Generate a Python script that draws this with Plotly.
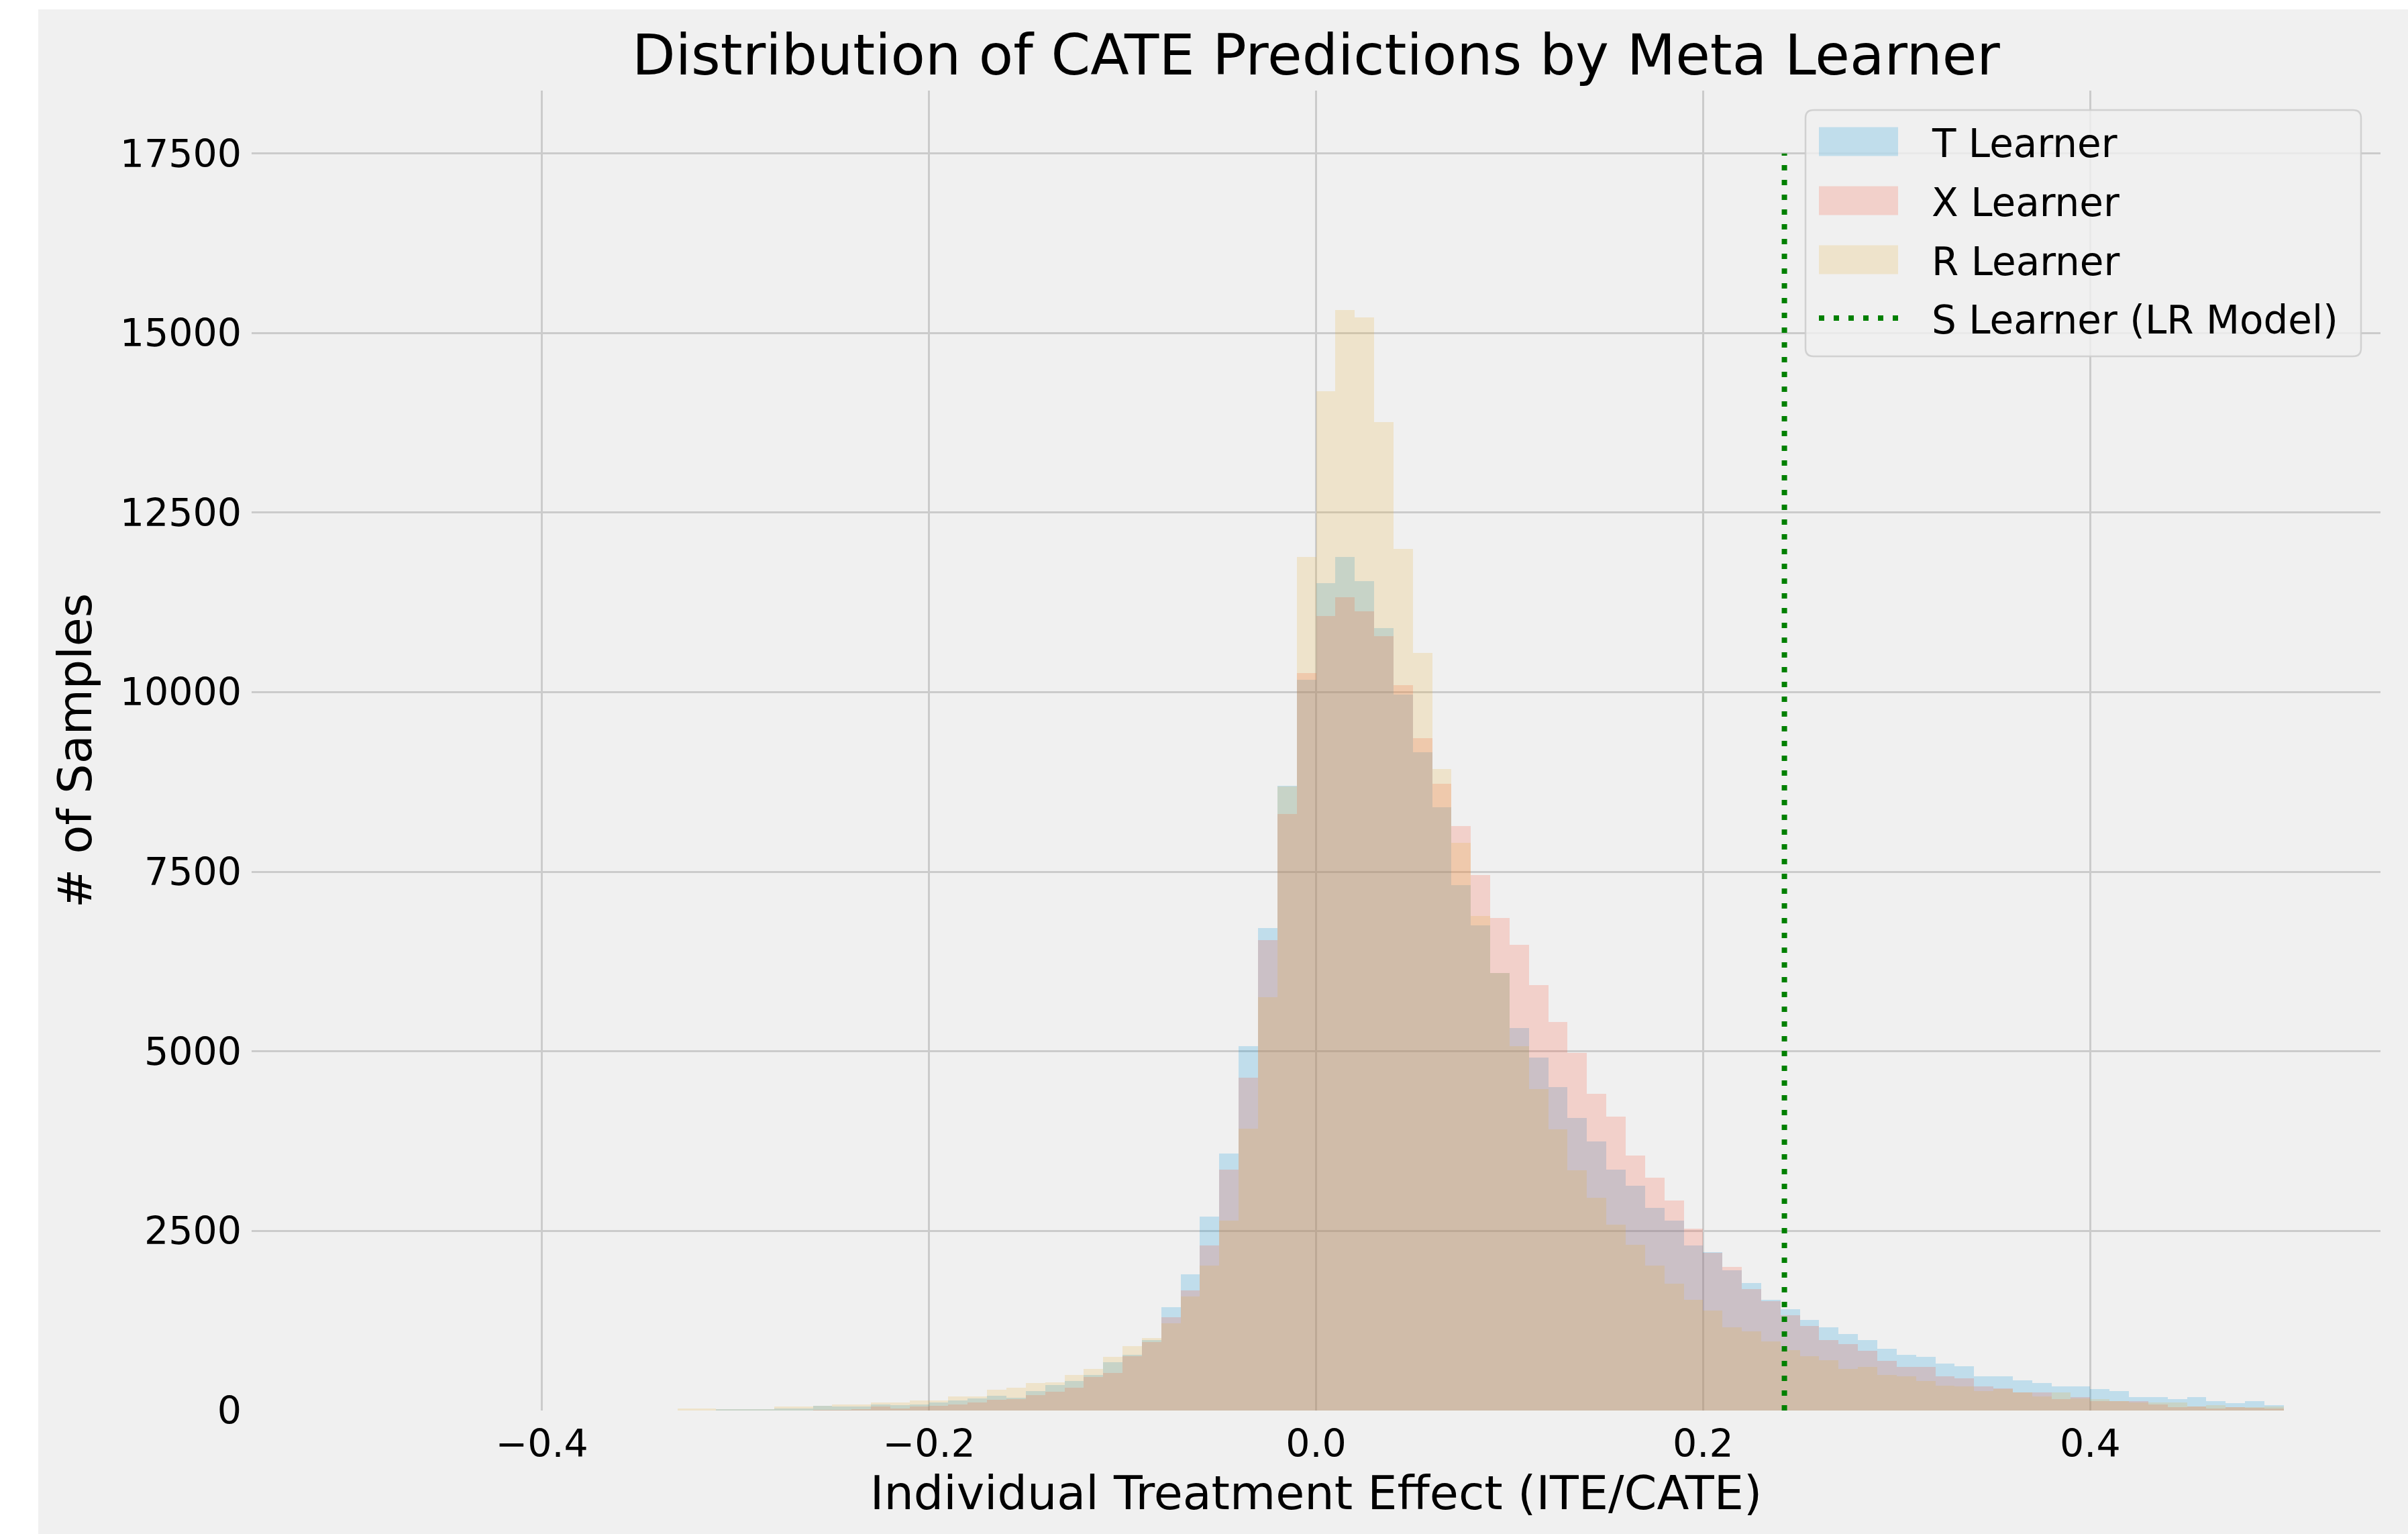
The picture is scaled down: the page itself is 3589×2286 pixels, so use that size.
import plotly.graph_objects as go

# ---------------- data ----------------
bin_width = 0.01
first_bin_left = -0.33

t_learner_counts = [0, 0, 22, 22, 22, 31, 31, 62, 56, 56, 81, 75, 84, 115, 140, 168, 205, 175, 271, 359,
                    412, 493, 668, 774, 977, 1440, 1900, 2700, 3578, 5069, 6719, 8700, 10175, 11522, 11885,
                    11543, 10893, 9967, 9162, 8394, 7314, 6750, 6090, 5324, 4918, 4500, 4075, 3749, 3354,
                    3125, 2817, 2644, 2300, 2206, 1950, 1778, 1544, 1410, 1264, 1154, 1067, 980, 864, 780,
                    749, 652, 616, 473, 473, 417, 386, 333, 333, 302, 274, 187, 187, 159, 187, 131, 103,
                    131, 75]
x_learner_counts = [0, 0, 0, 0, 0, 0, 0, 10, 10, 22, 56, 31, 56, 62, 84, 115, 148, 156, 212, 265,
                    321, 468, 524, 755, 952, 1300, 1670, 2300, 3350, 4630, 6548, 8308, 10267, 11063, 11318,
                    11122, 10780, 10100, 9359, 8728, 8134, 7452, 6855, 6487, 5920, 5409, 4980, 4405, 4094,
                    3553, 3243, 2926, 2528, 2200, 2003, 1691, 1519, 1326, 1179, 983, 927, 836, 693, 608,
                    608, 480, 445, 333, 310, 255, 249, 159, 187, 134, 134, 134, 81, 50, 56, 25, 45,
                    40, 31]
r_learner_counts = [25, 25, 22, 22, 22, 56, 56, 62, 81, 81, 112, 112, 140, 140, 196, 200, 285, 318, 381, 390,
                    493, 577, 749, 895, 1008, 1215, 1590, 2020, 2645, 3920, 5754, 8690, 11885, 14191, 15325,
                    15213, 13761, 11998, 10551, 8930, 7905, 6886, 6090, 5070, 4473, 3911, 3343, 2957, 2585,
                    2307, 2020, 1764, 1540, 1390, 1160, 1098, 958, 842, 758, 696, 583, 608, 499, 474,
                    412, 346, 333, 274, 300, 249, 193, 249, 170, 159, 134, 112, 109, 109, 56, 72, 50,
                    47, 56]

s_learner_ate = 0.242
s_line_top = 17500

series_names = ["T Learner", "X Learner", "R Learner"]
s_line_name = "S Learner (LR Model)"

x_tick_values = [-0.4, -0.2, 0.0, 0.2, 0.4]
x_tick_labels = ["\u22120.4", "\u22120.2", "0.0", "0.2", "0.4"]
y_tick_values = [0, 2500, 5000, 7500, 10000, 12500, 15000, 17500]
y_tick_labels = ["0", "2500", "5000", "7500", "10000", "12500", "15000", "17500"]

title_text = "Distribution of CATE Predictions by Meta Learner"
x_title = "Individual Treatment Effect (ITE/CATE)"
y_title = "# of Samples"

# ---------------- style ----------------
FONT = "DejaVu Sans"
BG = "#f0f0f0"
GRID = "#cbcbcb"
series_fill = ["rgba(0,143,213,0.2)", "rgba(252,79,48,0.2)", "rgba(229,174,56,0.2)"]
S_COLOR = "#008000"

W, H = 3589, 2286
ML, MR, MT, MB = 375, 41, 135, 184
PW = W - ML - MR
PH = H - MT - MB


def pxx(px):
    return (px - ML) / PW


def pxy(py):
    return (H - MB - py) / PH


bin_centers = [round(first_bin_left + bin_width * (i + 0.5), 4) for i in range(len(t_learner_counts))]

fig = go.Figure()
for name, counts, col in zip(series_names, [t_learner_counts, x_learner_counts, r_learner_counts], series_fill):
    fig.add_trace(go.Bar(
        x=bin_centers, y=counts, width=bin_width, name=name,
        marker=dict(color=col, line=dict(width=0)),
        showlegend=False,
    ))

fig.add_trace(go.Scatter(
    x=[s_learner_ate, s_learner_ate], y=[0, s_line_top], mode="lines", name=s_line_name,
    line=dict(color=S_COLOR, width=8, dash="8px,14px"), showlegend=False,
))

# ---------------- manual legend (matplotlib-like) ----------------
shapes = []
# white outer border strips of the saved figure
shapes.append(dict(type="rect", xref="paper", yref="paper", x0=pxx(0), x1=pxx(57), y0=pxy(H), y1=pxy(0),
                   fillcolor="white", line=dict(width=0), layer="below"))
shapes.append(dict(type="rect", xref="paper", yref="paper", x0=pxx(0), x1=pxx(W), y0=pxy(14), y1=pxy(0),
                   fillcolor="white", line=dict(width=0), layer="below"))

bx0, by0, bx1, by1, rr = 2691, 164, 3519, 531, 12


def P(x, y):
    return f"{pxx(x):.6f},{pxy(y):.6f}"


legend_path = (f"M {P(bx0 + rr, by0)} L {P(bx1 - rr, by0)} Q {P(bx1, by0)} {P(bx1, by0 + rr)} "
               f"L {P(bx1, by1 - rr)} Q {P(bx1, by1)} {P(bx1 - rr, by1)} "
               f"L {P(bx0 + rr, by1)} Q {P(bx0, by1)} {P(bx0, by1 - rr)} "
               f"L {P(bx0, by0 + rr)} Q {P(bx0, by0)} {P(bx0 + rr, by0)} Z")
shapes.append(dict(type="path", xref="paper", yref="paper", path=legend_path,
                   fillcolor="rgba(240,240,240,0.8)", line=dict(color="rgba(205,205,205,0.9)", width=2.5),
                   layer="above"))

row_y = [211, 299, 387, 474]
patch_x0, patch_x1, patch_h = 2711, 2829, 43
annotations = []
for i, (name, col) in enumerate(zip(series_names, series_fill)):
    yc = row_y[i]
    shapes.append(dict(type="rect", xref="paper", yref="paper",
                       x0=pxx(patch_x0), x1=pxx(patch_x1), y0=pxy(yc + patch_h / 2), y1=pxy(yc - patch_h / 2),
                       fillcolor=col, line=dict(width=0), layer="above"))
shapes.append(dict(type="line", xref="paper", yref="paper",
                   x0=pxx(patch_x0), x1=pxx(patch_x1), y0=pxy(row_y[3]), y1=pxy(row_y[3]),
                   line=dict(color=S_COLOR, width=8, dash="8px,14px"), layer="above"))

for i, name in enumerate(series_names + [s_line_name]):
    annotations.append(dict(x=pxx(2877), y=pxy(row_y[i] + 3), xref="paper", yref="paper",
                            text=name, showarrow=False, xanchor="left", yanchor="middle",
                            font=dict(family=FONT, size=58, color="black")))

fig.update_layout(
    width=W, height=H,
    margin=dict(l=ML, r=MR, t=MT, b=MB, pad=0),
    paper_bgcolor=BG, plot_bgcolor=BG,
    barmode="overlay", bargap=0,
    showlegend=False,
    font=dict(family=FONT, color="black"),
    title=dict(text=title_text, x=0.5, xref="paper", xanchor="center",
               y=1 - 82 / H, yref="container", yanchor="middle",
               font=dict(family=FONT, size=84, color="black")),
    xaxis=dict(range=[-0.55, 0.55], tickmode="array", tickvals=x_tick_values, ticktext=x_tick_labels,
               showgrid=True, gridcolor=GRID, gridwidth=3, zeroline=False, showline=False, ticks="",
               ticklabelstandoff=11, automargin=False,
               tickfont=dict(family=FONT, size=57, color="black"),
               title=dict(text=x_title, font=dict(family=FONT, size=70, color="black"), standoff=11)),
    yaxis=dict(range=[0, s_line_top * 1.05], tickmode="array", tickvals=y_tick_values, ticktext=y_tick_labels,
               showgrid=True, gridcolor=GRID, gridwidth=3, zeroline=False, showline=False, ticks="",
               ticklabelstandoff=14, automargin=False,
               tickfont=dict(family=FONT, size=57, color="black"),
               title=dict(text=y_title, font=dict(family=FONT, size=70, color="black"), standoff=19)),
    shapes=shapes,
    annotations=annotations,
)

fig.write_html("out.html", config={"displayModeBar": False},
               post_script="document.body.style.margin='0';document.body.style.overflow='hidden';")
